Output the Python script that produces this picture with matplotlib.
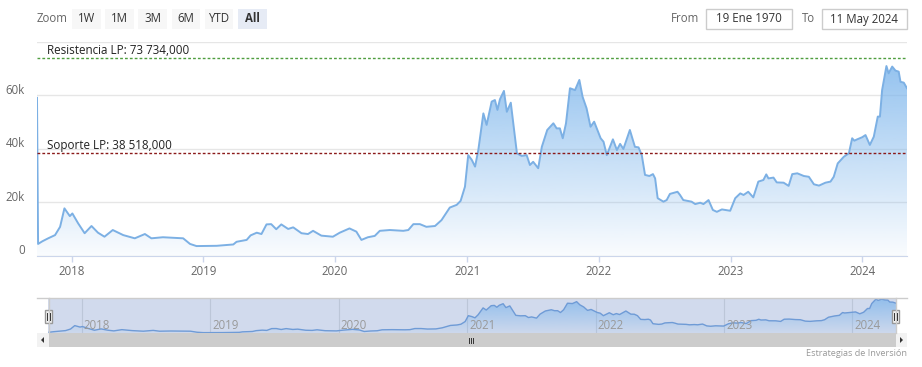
import matplotlib
matplotlib.use('Agg')
import matplotlib.pyplot as plt
import matplotlib.dates as mdates
import matplotlib.transforms as mtransforms
from matplotlib.patches import Rectangle, Polygon
from matplotlib.colors import LinearSegmentedColormap
import numpy as np
import pandas as pd

plt.rcParams['font.family'] = ['Open Sans', 'DejaVu Sans']

# Serie de precios (USD)
fechas = [
    '2017-09-27', '2017-09-30', '2017-10-12', '2017-10-28', '2017-11-16', '2017-11-30',
    '2017-12-12', '2017-12-27', '2018-01-03', '2018-01-19', '2018-02-06', '2018-02-25',
    '2018-03-15', '2018-04-02', '2018-04-25', '2018-05-24', '2018-06-25', '2018-07-23',
    '2018-08-10', '2018-09-11', '2018-11-06', '2018-11-25', '2018-12-13', '2019-02-07',
    '2019-03-25', '2019-04-03', '2019-05-01', '2019-05-12', '2019-05-29', '2019-06-11',
    '2019-06-25', '2019-07-08', '2019-07-22', '2019-08-05', '2019-08-24', '2019-09-07',
    '2019-09-30', '2019-10-18', '2019-11-01', '2019-11-24', '2019-12-26', '2020-01-14',
    '2020-02-10', '2020-02-29', '2020-03-14', '2020-04-01', '2020-04-20', '2020-05-04',
    '2020-06-01', '2020-07-08', '2020-07-22', '2020-08-05', '2020-08-23', '2020-09-10',
    '2020-10-04', '2020-10-22', '2020-11-14', '2020-12-03', '2020-12-14', '2020-12-26',
    '2021-01-04', '2021-01-14', '2021-01-23', '2021-02-01', '2021-02-15', '2021-02-24',
    '2021-03-10', '2021-03-19', '2021-03-26', '2021-04-02', '2021-04-13', '2021-04-21',
    '2021-05-02', '2021-05-19', '2021-06-01', '2021-06-15', '2021-06-24', '2021-07-03',
    '2021-07-17', '2021-07-27', '2021-08-11', '2021-08-28', '2021-09-06', '2021-09-15',
    '2021-09-23', '2021-10-02', '2021-10-13', '2021-10-27', '2021-11-08', '2021-11-17',
    '2021-11-28', '2021-12-09', '2021-12-19', '2021-12-28', '2022-01-06', '2022-01-14',
    '2022-01-23', '2022-02-09', '2022-02-20', '2022-03-01', '2022-03-10', '2022-03-28',
    '2022-04-11', '2022-04-21', '2022-04-30', '2022-05-09', '2022-05-21', '2022-05-31',
    '2022-06-06', '2022-06-13', '2022-06-29', '2022-07-08', '2022-07-17', '2022-08-07',
    '2022-08-14', '2022-08-23', '2022-09-15', '2022-09-25', '2022-10-09', '2022-10-18',
    '2022-11-01', '2022-11-13', '2022-11-24', '2022-12-08', '2022-12-31', '2023-01-14',
    '2023-01-28', '2023-02-06', '2023-02-19', '2023-03-05', '2023-03-19', '2023-04-02',
    '2023-04-10', '2023-04-16', '2023-04-30', '2023-05-09', '2023-05-28', '2023-06-11',
    '2023-06-21', '2023-07-05', '2023-07-23', '2023-08-06', '2023-08-20', '2023-09-03',
    '2023-09-21', '2023-10-05', '2023-10-14', '2023-10-25', '2023-11-11', '2023-11-25',
    '2023-12-04', '2023-12-10', '2023-12-18', '2024-01-01', '2024-01-10', '2024-01-22',
    '2024-02-02', '2024-02-13', '2024-02-19', '2024-02-25', '2024-03-08', '2024-03-14',
    '2024-03-24', '2024-04-02', '2024-04-11', '2024-04-16', '2024-04-25', '2024-05-04',
]
precios = [
    59000, 4400, 5400, 6500, 7700, 10800,
    17700, 14800, 15800, 12100, 8400, 11100,
    8600, 7100, 9600, 7700, 6500, 8100,
    6500, 6900, 6500, 4400, 3600, 3700,
    4200, 5200, 5900, 7600, 8600, 8100,
    11700, 11800, 9900, 11700, 10000, 10600,
    8400, 8100, 9300, 7500, 7100, 8600,
    10200, 9000, 5900, 6900, 7400, 9300,
    9600, 9300, 9600, 11800, 11800, 10800,
    11100, 13300, 18000, 19000, 20500, 25800,
    37600, 35800, 33300, 39500, 53200, 48900,
    57600, 58200, 54500, 58500, 61600, 53800,
    57200, 38300, 37300, 37600, 33900, 35100,
    32700, 40700, 47000, 49500, 47600, 47600,
    43900, 49500, 62600, 61900, 65700, 59400,
    55100, 48200, 50100, 47000, 43900, 42600,
    37600, 43500, 39500, 41800, 39900, 47000,
    40700, 40500, 37600, 30200, 29800, 30500,
    28900, 21500, 20200, 20800, 23100, 23900,
    22700, 20800, 20200, 19300, 19800, 19300,
    20800, 17100, 16400, 17300, 16800, 21500,
    23300, 22700, 23900, 21800, 27700, 28300,
    30400, 28900, 29200, 27400, 27300, 26100,
    30500, 30800, 29800, 29500, 26700, 26200,
    27300, 27700, 29500, 34500, 37000, 38300,
    43900, 43000, 43500, 44300, 45100, 41400,
    44500, 52000, 52000, 61900, 70900, 68200,
    70700, 69200, 68800, 65000, 64700, 62600,
]

resistencia = 73734
soporte = 38518
etiqueta_resistencia = 'Resistencia LP: 73 734,000'
etiqueta_soporte = 'Soporte LP: 38 518,000'
y_ticks = [0, 20000, 40000, 60000, 80000]
y_etiquetas = ['0', '20k', '40k', '60k', '']
botones = ['1W', '1M', '3M', '6M', 'YTD', 'All']
desde = '19 Ene 1970'
hasta = '11 May 2024'
creditos = 'Estrategias de Inversión'

W, H = 922, 367


def caja(l, t, r, b):
    return [l / W, 1 - b / H, (r - l) / W, (b - t) / H]


def relleno_gradiente(ax, x, y, y0, y1, a_top, a_bot):
    verts = np.column_stack([np.r_[x, x[::-1]], np.r_[y, np.full(len(y), y0)]])
    poly = Polygon(verts, closed=True, facecolor='none', edgecolor='none')
    ax.add_patch(poly)
    cmap = LinearSegmentedColormap.from_list(
        'g', [(124 / 255, 181 / 255, 236 / 255, a_bot), (124 / 255, 181 / 255, 236 / 255, a_top)])
    im = ax.imshow(np.linspace(0, 1, 256).reshape(-1, 1), extent=[x[0], x[-1], y0, y1],
                   origin='lower', aspect='auto', cmap=cmap, zorder=1)
    im.set_clip_path(poly)


fig = plt.figure(figsize=(W / 100, H / 100), dpi=100)

x = mdates.date2num(pd.to_datetime(fechas))
y = np.array(precios, dtype=float)

# ---- grafico principal
ax = fig.add_axes(caja(37, 41.7, 907, 255.7))
ax.set_xlim(x[0], x[-1])
ax.set_ylim(0, 80000)
relleno_gradiente(ax, x, y, 0, 80000, 0.9, 0.04)
ax.plot(x, y, color='#7cb0e4', lw=1.4, zorder=3, solid_joinstyle='round')

ax.set_yticks(y_ticks)
ax.yaxis.grid(True, color='#e6e6e6', lw=1)
ax.set_axisbelow(True)
ax.tick_params(axis='y', length=0, labelleft=False)
for v, lbl in zip(y_ticks, y_etiquetas):
    ax.annotate(lbl, xy=(0, v), xycoords=('axes fraction', 'data'), xytext=(-12, 5),
                textcoords='offset pixels', ha='right', va='center', fontsize=8.3, color='#666666')

for s in ['top', 'right', 'left']:
    ax.spines[s].set_visible(False)
ax.spines['bottom'].set_color('#ccd6eb')
ax.xaxis.set_major_locator(mdates.YearLocator())
ax.xaxis.set_major_formatter(mdates.DateFormatter('%Y'))
ax.tick_params(axis='x', colors='#ccd6eb', length=4.5, width=1, pad=2, labelsize=8.3,
               labelcolor='#666666')

ax.axhline(resistencia, color='#4f9e3f', lw=1, ls=(0, (2, 1.5)), zorder=4)
ax.axhline(soporte, color='#8b1a1a', lw=1, ls=(0, (2, 1.5)), zorder=4)
ax.annotate(etiqueta_resistencia, xy=(0, resistencia), xycoords=('axes fraction', 'data'),
            xytext=(10, 1), textcoords='offset pixels', va='bottom', fontsize=8.4, color='#222222')
ax.annotate(etiqueta_soporte, xy=(0, soporte), xycoords=('axes fraction', 'data'),
            xytext=(10, 1), textcoords='offset pixels', va='bottom', fontsize=8.4, color='#222222')

# ---- navegador
xn, yn = x[1:], y[1:]
nav = fig.add_axes(caja(48, 298, 896, 333))
nav.set_xlim(x[0], x[-1])
nav.set_ylim(yn.min() * 0.8, yn.max() * 1.03)
nav.set_facecolor('#d1daed')
for s in nav.spines.values():
    s.set_visible(False)
nav.set_yticks([])
nav.xaxis.set_major_locator(mdates.YearLocator())
nav.tick_params(axis='x', length=0, labelbottom=False)
nav.xaxis.grid(True, color='#bcc6d8', lw=0.8)
nav.set_axisbelow(True)
relleno_gradiente(nav, xn, yn, nav.get_ylim()[0], nav.get_ylim()[1], 0.75, 0.05)
nav.plot(xn, yn, color='#6f9bd6', lw=1, zorder=3)
tr = mtransforms.blended_transform_factory(nav.transData, nav.transAxes)
for t in nav.get_xticks():
    if x[0] <= t <= x[-1]:
        nav.text(t + 6, 0.22, mdates.num2date(t).strftime('%Y'), transform=tr, ha='left',
                 va='center', fontsize=8.3, color='#999999', zorder=5)

# ---- capa de controles (pixeles)
ov = fig.add_axes([0, 0, 1, 1], zorder=10)
ov.set_xlim(0, W)
ov.set_ylim(H, 0)
ov.axis('off')
ov.patch.set_alpha(0)

ov.text(37, 19, 'Zoom', fontsize=8.3, color='#666666', va='center', ha='left')
bx = 72
for b in botones:
    sel = b == 'All'
    ov.add_patch(Rectangle((bx, 9), 28.5, 20, facecolor='#e6ebf5' if sel else '#f7f7f7',
                           edgecolor='none'))
    ov.text(bx + 14.25, 19, b, fontsize=8.3, color='#333333', ha='center', va='center',
            fontweight='bold' if sel else 'normal')
    bx += 33.2

ov.text(699, 19, 'From', fontsize=8.3, color='#666666', ha='right', va='center')
ov.add_patch(Rectangle((706, 8.5), 85.5, 20.5, facecolor='white', edgecolor='#cccccc', lw=1))
ov.text(748.7, 19, desde, fontsize=8.3, color='#333333', ha='center', va='center')
ov.text(815, 19, 'To', fontsize=8.3, color='#666666', ha='right', va='center')
ov.add_patch(Rectangle((821.5, 8.5), 85.5, 20.5, facecolor='white', edgecolor='#cccccc', lw=1))
ov.text(864.2, 19, hasta, fontsize=8.3, color='#333333', ha='center', va='center')

# contorno del navegador y asas
ov.plot([37, 907], [298, 298], color='#cccccc', lw=1)
for hx in (48.5, 895.5):
    ov.plot([hx, hx], [298, 333], color='#cccccc', lw=1)
    ov.add_patch(Rectangle((hx - 3.5, 310), 7, 13, facecolor='#f2f2f2', edgecolor='#999999', lw=1))
    for dx in (-1.2, 1.2):
        ov.plot([hx + dx, hx + dx], [313, 320], color='#333333', lw=0.7)

# barra de desplazamiento
ov.add_patch(Rectangle((37, 333), 870, 14, facecolor='#f2f2f2', edgecolor='none'))
ov.add_patch(Rectangle((48.5, 333), 847, 14, facecolor='#cccccc', edgecolor='none'))
ov.add_patch(Polygon([[44, 337], [44, 343], [41, 340]], closed=True, facecolor='#333333'))
ov.add_patch(Polygon([[900, 337], [900, 343], [903, 340]], closed=True, facecolor='#333333'))
for gx in (468.5, 470.5, 472.5):
    ov.plot([gx, gx], [337.5, 342.5], color='#333333', lw=0.7)

ov.text(907, 353, creditos, fontsize=6.6, color='#999999', ha='right', va='center')

fig.savefig('out.png', dpi=100)
